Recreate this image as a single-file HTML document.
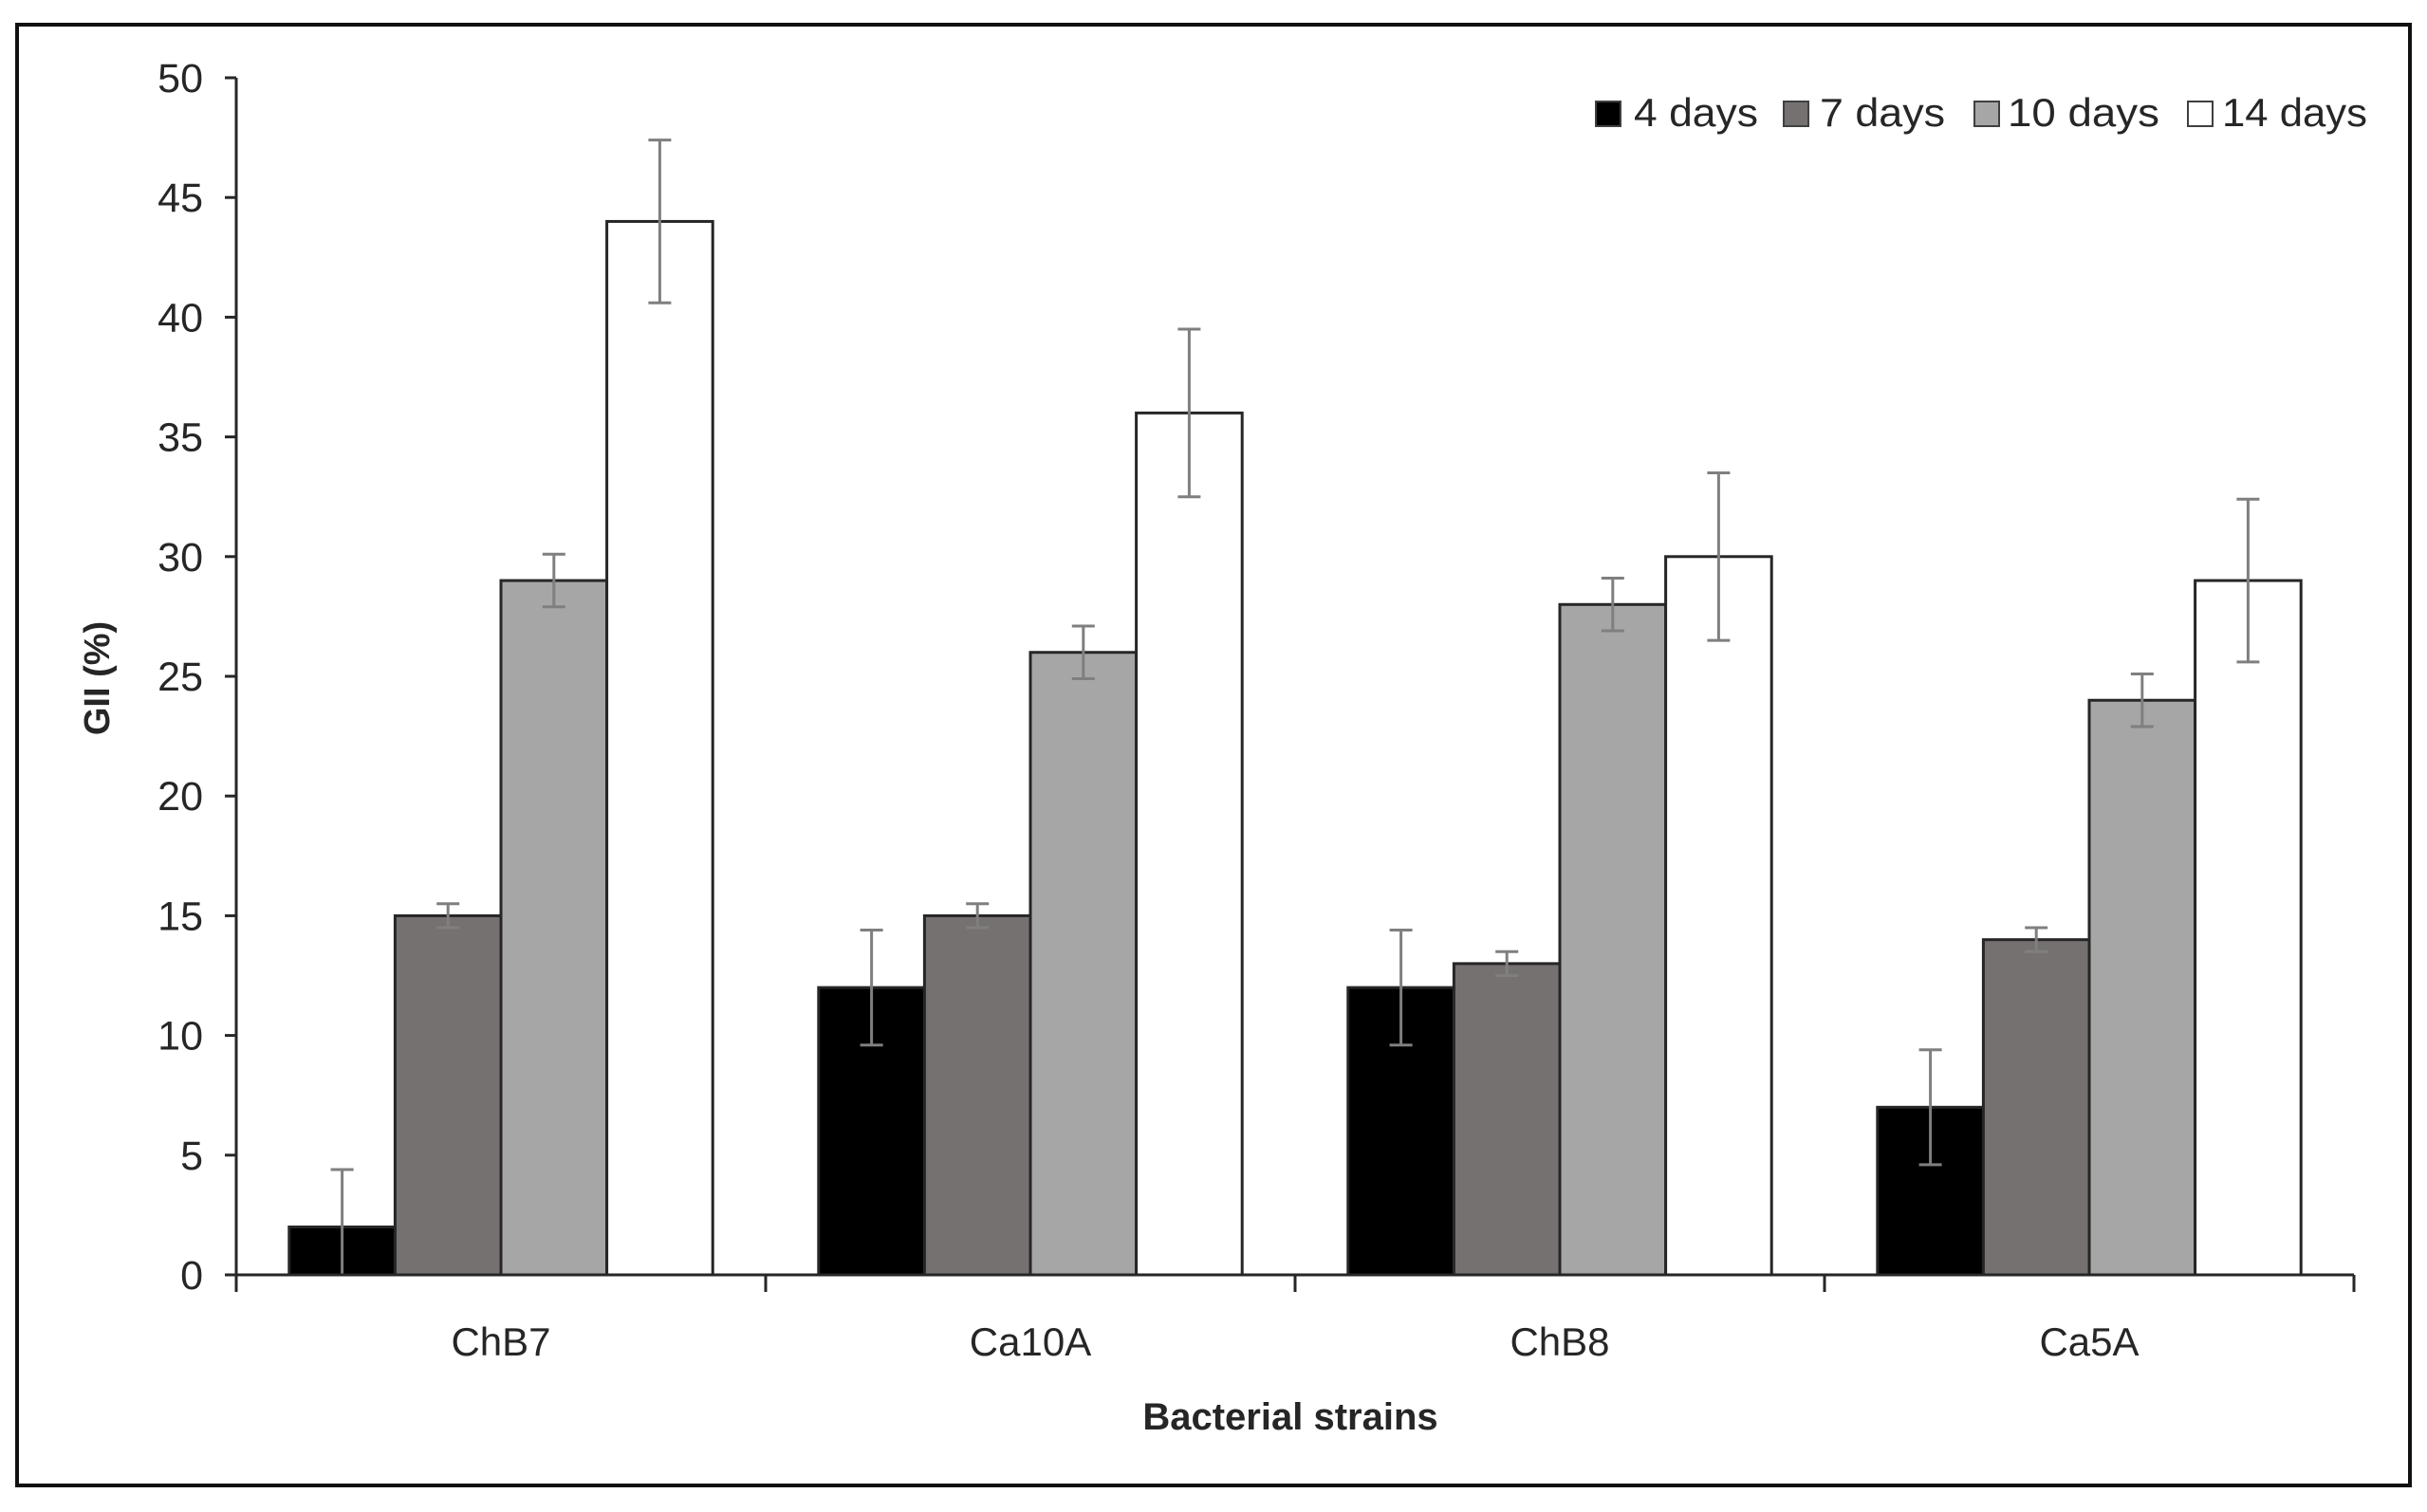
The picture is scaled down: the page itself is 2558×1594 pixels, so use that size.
<!DOCTYPE html>
<html><head><meta charset="utf-8"><style>
html,body{margin:0;padding:0;background:#fff;}
svg{display:block;}
text{font-family:"Liberation Sans Narrow","Liberation Sans",sans-serif;fill:#262626;}
</style></head><body>
<svg id="chart" width="2558" height="1594" viewBox="0 0 2558 1594">
<rect x="0" y="0" width="2558" height="1594" fill="#fff"/>
<rect x="18" y="26" width="2522" height="1540" fill="none" stroke="#111" stroke-width="4"/>
<g id="plot"></g>
</svg>
<script>
const categories = ["ChB7", "Ca10A", "ChB8", "Ca5A"];
const seriesNames = ["4 days", "7 days", "10 days", "14 days"];
const days4 = [2, 12, 12, 7];
const days7 = [15, 15, 13, 14];
const days10 = [29, 26, 28, 24];
const days14 = [44, 36, 30, 29];
const err4 = [2.4, 2.4, 2.4, 2.4];
const err7 = [0.5, 0.5, 0.5, 0.5];
const err10 = [1.1, 1.1, 1.1, 1.1];
const err14 = [3.4, 3.5, 3.5, 3.4];
const yTicks = [0, 5, 10, 15, 20, 25, 30, 35, 40, 45, 50];

const series = [days4, days7, days10, days14];
const errs = [err4, err7, err10, err14];
const fills = ["#000000", "#767171", "#a6a6a6", "#ffffff"];
const NS = "http://www.w3.org/2000/svg";
const g = document.getElementById("plot");
const X0 = 249, X1 = 2481, Y0 = 1344, Y1 = 82, YMAX = 50;
const groupW = (X1 - X0) / categories.length;
const barW = groupW * 0.2;
function y(v){ return Y0 - (v / YMAX) * (Y0 - Y1); }
function xBar(ci, si){ return X0 + ci * groupW + groupW * 0.1 + si * barW; }
function mk(tag, attrs, parent){
  const e = document.createElementNS(NS, tag);
  for (const k in attrs) e.setAttribute(k, attrs[k]);
  (parent || g).appendChild(e);
  return e;
}

series.forEach((vals, si) => {
  vals.forEach((v, ci) => {
    const r = mk("rect", {x: xBar(ci, si), y: y(v), width: barW, height: Y0 - y(v), fill: fills[si], stroke: "#262626", "stroke-width": 3});
    
    
  });
});
series.forEach((vals, si) => {
  vals.forEach((v, ci) => {
    const cx = xBar(ci, si) + barW / 2;
    const e = errs[si][ci];
    const eg = mk("g", {stroke: "#7f7f7f", "stroke-width": 3});
    
    
    mk("line", {x1: cx, x2: cx, y1: y(v + e), y2: y(Math.max(0, v - e))}, eg);
    mk("line", {x1: cx - 12, x2: cx + 12, y1: y(v + e), y2: y(v + e)}, eg);
    if (v - e > 0) mk("line", {x1: cx - 12, x2: cx + 12, y1: y(v - e), y2: y(v - e)}, eg);
  });
});
const ya = mk("line", {x1: X0, x2: X0, y1: Y1, y2: Y0 + 10, stroke: "#262626", "stroke-width": 3});


const xa = mk("line", {x1: X0 - 10, x2: X1, y1: Y0, y2: Y0, stroke: "#262626", "stroke-width": 3});


yTicks.forEach(t => {
  const tk = mk("line", {x1: X0 - 12, x2: X0, y1: y(t), y2: y(t), stroke: "#262626", "stroke-width": 3});
  
  
  const tl = mk("text", {x: 214, y: y(t) + 15, "text-anchor": "end", "font-size": 43});
  tl.textContent = t;
  
  
});
for (let i = 0; i <= categories.length; i++) {
  const tx = X0 + i * groupW;
  const tk = mk("line", {x1: tx, x2: tx, y1: Y0, y2: Y0 + 18, stroke: "#262626", "stroke-width": 3});
  
  
}
categories.forEach((c, ci) => {
  const t = mk("text", {x: X0 + (ci + 0.5) * groupW, y: 1429, "text-anchor": "middle", "font-size": 42});
  t.textContent = c;
  
  
});
const xt = mk("text", {x: 1360, y: 1507, "text-anchor": "middle", "font-size": 40, "font-weight": "bold"});
xt.textContent = "Bacterial strains";


const yt = mk("text", {x: 0, y: 0, "text-anchor": "middle", "font-size": 38, "font-weight": "bold", transform: "translate(115,715) rotate(-90)"});
yt.textContent = "GII (%)";


const legSq = [1682, 1880, 2081, 2306];
const legTx = [[1722, 131], [1918, 132], [2116, 160], [2342, 153]];
seriesNames.forEach((n, si) => {
  const lg = mk("g", {});
  
  
  mk("rect", {x: legSq[si], y: 107, width: 26, height: 26, fill: fills[si], stroke: "#404040", "stroke-width": 2}, lg);
  const t = mk("text", {x: legTx[si][0], y: 133, "font-size": 42, textLength: legTx[si][1], lengthAdjust: "spacingAndGlyphs"}, lg);
  t.textContent = n;
});
</script>
</body></html>
